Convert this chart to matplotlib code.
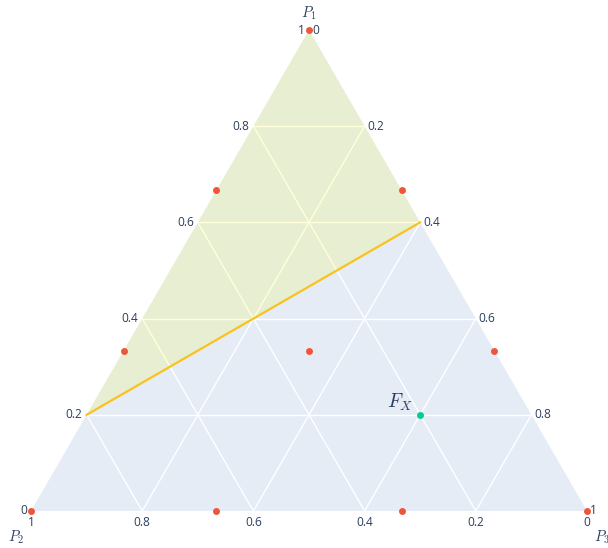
import numpy as np
import matplotlib.pyplot as plt
from matplotlib.patches import Polygon

plt.rcParams['font.family'] = ['Open Sans', 'DejaVu Sans']
plt.rcParams['mathtext.fontset'] = 'cm'

# lattice points (P1, P2, P3)
p1 = [1, 0, 0, 2/3, 1/3, 2/3, 1/3, 0, 0, 1/3]
p2 = [0, 1, 0, 1/3, 2/3, 0, 0, 2/3, 1/3, 1/3]
p3 = [0, 0, 1, 0, 0, 1/3, 2/3, 1/3, 2/3, 1/3]

# feasible point F_X
fx = (0.2, 0.2, 0.6)

# boundary line endpoints (P1, P2, P3)
line_p1 = [0.2, 0.6]
line_p2 = [0.8, 0.0]
line_p3 = [0.0, 0.4]

ticks = [0, 0.2, 0.4, 0.6, 0.8, 1]
tick_labels = ['0', '0.2', '0.4', '0.6', '0.8', '1']

H = np.sqrt(3) / 2
TXT = '#2a3f5f'


def tern(a, b, c):
    a = np.asarray(a, dtype=float)
    c = np.asarray(c, dtype=float)
    return c + a / 2, a * H


fig = plt.figure(figsize=(6.08, 5.48), dpi=100)
ax = fig.add_axes([31 / 608, 37 / 548, 556 / 608, 481 / 548])
ax.set_xlim(0, 1)
ax.set_ylim(0, H)
ax.axis('off')

# triangle background
ax.add_patch(Polygon([tern(1, 0, 0), tern(0, 1, 0), tern(0, 0, 1)],
                     closed=True, facecolor='#E5ECF6', edgecolor='none', zorder=0))

# grid
for t in ticks[1:-1]:
    for s, e in [((t, 1 - t, 0), (t, 0, 1 - t)),
                 ((1 - t, t, 0), (0, t, 1 - t)),
                 ((1 - t, 0, t), (0, 1 - t, t))]:
        x, y = tern([s[0], e[0]], [s[1], e[1]], [s[2], e[2]])
        ax.plot(x, y, color='white', lw=1, zorder=1)

# shaded region above the line
fill = [tern(1, 0, 0), tern(line_p1[0], line_p2[0], line_p3[0]),
        tern(line_p1[1], line_p2[1], line_p3[1])]
ax.add_patch(Polygon(fill, closed=True, facecolor=(1, 1, 0, 0.15),
                     edgecolor='none', zorder=2))

lx, ly = tern(line_p1, line_p2, line_p3)
ax.plot(lx, ly, color='#f9c31f', lw=1.6, zorder=3)

px, py = tern(p1, p2, p3)
ax.plot(px, py, 'o', color='#EF553B', ms=5, mec='none', zorder=4, clip_on=False)

gx, gy = tern(*fx)
ax.plot(gx, gy, 'o', color='#00CC96', ms=5, mec='none', zorder=4)
ax.annotate('$F_X$', (gx, gy), xytext=(-7, 2), textcoords='offset pixels',
            ha='right', va='bottom', fontsize=14, color=TXT)

# tick labels
for t, lab in zip(ticks, tick_labels):
    x, y = tern(t, 1 - t, 0)
    ax.annotate(lab, (x, y), xytext=(-4, 0), textcoords='offset pixels',
                ha='right', va='center', fontsize=8.6, color=TXT)
    x, y = tern(0, t, 1 - t)
    ax.annotate(lab, (x, y), xytext=(0, -11), textcoords='offset pixels',
                ha='center', va='center', fontsize=8.6, color=TXT)
    x, y = tern(1 - t, 0, t)
    ax.annotate(lab, (x, y), xytext=(3, 0), textcoords='offset pixels',
                ha='left', va='center', fontsize=8.6, color=TXT)

# axis titles
ax.annotate('$P_1$', tern(1, 0, 0), xytext=(0, 17), textcoords='offset pixels',
            ha='center', va='center', fontsize=10.5, color=TXT)
ax.annotate('$P_2$', tern(0, 1, 0), xytext=(-15, -26), textcoords='offset pixels',
            ha='center', va='center', fontsize=10.5, color=TXT)
ax.annotate('$P_3$', tern(0, 0, 1), xytext=(15, -26), textcoords='offset pixels',
            ha='center', va='center', fontsize=10.5, color=TXT)

fig.savefig('out.png', dpi=100)
